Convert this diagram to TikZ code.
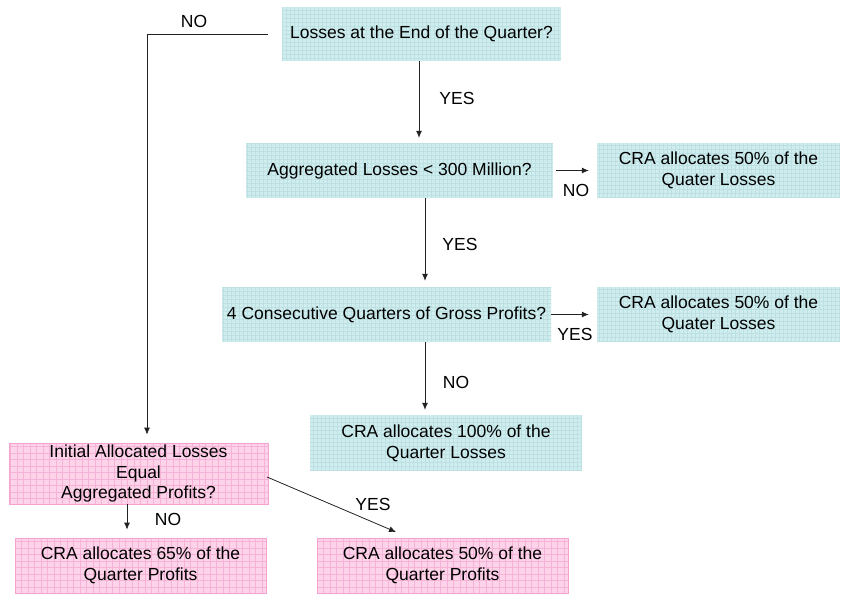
\documentclass[tikz,border=0pt]{standalone}
\usepackage{fontspec}
\setmainfont{Liberation Sans}
\usetikzlibrary{arrows.meta,calc}
\definecolor{cyanfill}{HTML}{D0EDEE}
\definecolor{cyangrid}{HTML}{BCE0E3}
\definecolor{pinkfill}{HTML}{FCD3E9}
\definecolor{pinkgrid}{HTML}{F7B3D7}
\definecolor{pinkedge}{HTML}{F5A3CE}
\definecolor{linec}{HTML}{222222}
\tikzset{
  cyanbox/.style={fill=cyanfill, inner sep=0pt, align=center,
    font=\fontsize{17.5}{21}\selectfont,
    path picture={\draw[cyangrid, line width=0.4pt, step=4pt]
      (path picture bounding box.south west) grid (path picture bounding box.north east);}},
  pinkbox/.style={fill=pinkfill, draw=pinkedge, line width=0.8pt, inner sep=0pt, align=center,
    font=\fontsize{17.5}{20.5}\selectfont,
    path picture={\draw[pinkgrid, line width=0.4pt, step=6.5pt]
      (path picture bounding box.south west) grid (path picture bounding box.north east);}},
  arr/.style={draw=linec, line width=0.8pt, -{Latex[length=7pt,width=6pt]}},
  lbl/.style={font=\fontsize{17.5}{21}\selectfont, inner sep=0pt},
}
\begin{document}
\begin{tikzpicture}[x=1pt,y=-1pt]
\useasboundingbox (0,0) rectangle (841,594);
% nodes
\node[cyanbox, minimum width=279pt, minimum height=54pt] (b1) at (421.5,34) {Losses at the End of the Quarter?};
\node[cyanbox, minimum width=307pt, minimum height=55pt] (b2) at (399.5,170.5) {Aggregated Losses < 300 Million?};
\node[cyanbox, minimum width=243pt, minimum height=55pt] (r1) at (718.5,170.5) {CRA allocates 50\% of the\\Quater Losses};
\node[cyanbox, minimum width=329pt, minimum height=55pt] (b3) at (386.5,314.5) {4 Consecutive Quarters of Gross Profits?};
\node[cyanbox, minimum width=243pt, minimum height=55pt] (r2) at (718.5,314.5) {CRA allocates 50\% of the\\Quater Losses};
\node[cyanbox, minimum width=272pt, minimum height=56pt] (b4) at (446,443) {CRA allocates 100\% of the\\Quarter Losses};
\node[pinkbox, minimum width=259pt, minimum height=61pt] (p1) at (138.5,473.5) {Initial Allocated Losses\\Equal\\Aggregated Profits?};
\node[pinkbox, minimum width=251pt, minimum height=55pt] (p2) at (140.5,565.5) {CRA allocates 65\% of the\\Quarter Profits};
\node[pinkbox, minimum width=251pt, minimum height=55pt] (p3) at (442.5,565.5) {CRA allocates 50\% of the\\Quarter Profits};
% helper coordinates
\coordinate (n1) at (268,34);
\coordinate (n2) at (147,34);
\coordinate (d1) at (267,477);
\coordinate (d2) at (396,532);
% connectors
\draw[arr, shorten >=8pt] (n1) -- (n2) -- (n2 |- p1.north);
\draw[arr, shorten >=5pt] (b1.south -| 419,0) -- (b2.north -| 419,0);
\draw[arr, shorten <=3pt, shorten >=8pt] (b2.east) -- (r1.west);
\draw[arr, shorten >=6pt] (b2.south -| 425,0) -- (b3.north -| 425,0);
\draw[arr, shorten >=8pt] (b3.east) -- (r2.west);
\draw[arr, shorten >=5pt] (b3.south -| 425,0) -- (b4.north -| 425,0);
\draw[arr, shorten >=8pt] (p1.south -| 127,0) -- (p2.north -| 127,0);
\draw[arr] (d1) -- (d2);
% labels
\node[lbl] (l1) at (194,21) {NO};
\node[lbl] (l2) at (457,98) {YES};
\node[lbl] (l3) at (576,190) {NO};
\node[lbl] (l4) at (460,244) {YES};
\node[lbl] (l5) at (575,334) {YES};
\node[lbl] (l6) at (456,382) {NO};
\node[lbl] (l7) at (168,519) {NO};
\node[lbl] (l8) at (373,504) {YES};
\end{tikzpicture}
\end{document}
